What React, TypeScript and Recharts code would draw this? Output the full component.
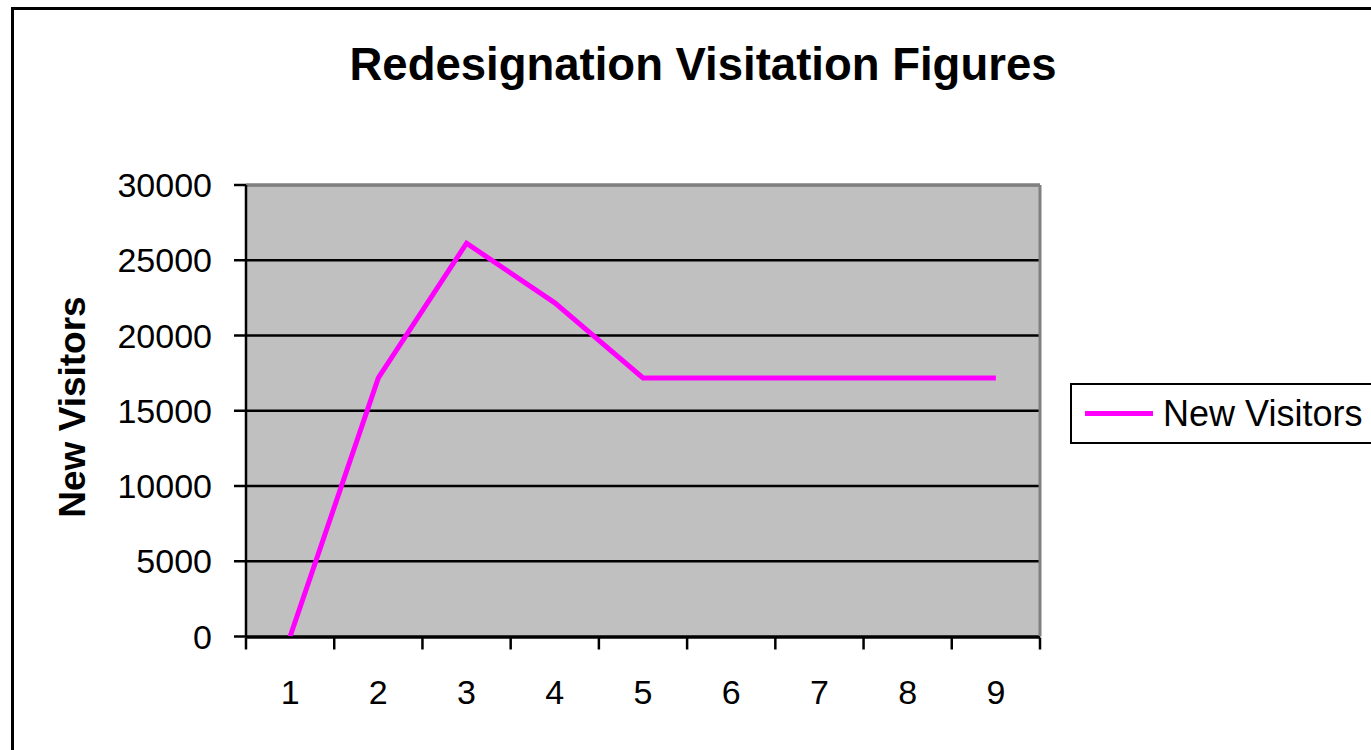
import {
  LineChart,
  Line,
  XAxis,
  YAxis,
  CartesianGrid,
  ReferenceLine,
  Legend,
} from 'recharts';

const periods = [1, 2, 3, 4, 5, 6, 7, 8, 9];
const newVisitors = [0, 17180, 26130, 22170, 17180, 17180, 17180, 17180, 17180];
const yTicks = [0, 5000, 10000, 15000, 20000, 25000, 30000];
const boundaryTicks = [0.5, 1.5, 2.5, 3.5, 4.5, 5.5, 6.5, 7.5, 8.5, 9.5];

const data = periods.map((p, i) => ({ period: p, visitors: newVisitors[i] }));

const FONT = '"Liberation Sans", Arial, sans-serif';
const MAGENTA = '#FF00FF';

function LegendBox() {
  return (
    <div
      style={{
        boxSizing: 'border-box',
        width: 310,
        height: 61,
        border: '2px solid #000',
        background: '#fff',
        display: 'flex',
        alignItems: 'center',
        fontFamily: FONT,
        fontSize: 36,
        color: '#000',
      }}
    >
      <div style={{ width: 68, height: 5, background: MAGENTA, marginLeft: 13, marginRight: 10 }} />
      <span style={{ whiteSpace: 'nowrap' }}>New Visitors</span>
    </div>
  );
}

export default function App() {
  return (
    <div
      style={{
        position: 'absolute',
        left: 0,
        top: 0,
        width: 1371,
        height: 750,
        overflow: 'hidden',
        background: '#fff',
        fontFamily: FONT,
      }}
    >
      <div
        style={{
          position: 'absolute',
          left: 11,
          top: 7,
          width: 1420,
          height: 820,
          border: '3px solid #000',
        }}
      />
      <div
        style={{
          position: 'absolute',
          left: 0,
          width: 1406,
          top: 42,
          textAlign: 'center',
          fontSize: 45.5,
          lineHeight: 1,
          fontWeight: 'bold',
          color: '#000',
        }}
      >
        Redesignation Visitation Figures
      </div>
      <div
        style={{
          position: 'absolute',
          left: 72,
          top: 407,
          transform: 'translate(-50%, -50%) rotate(-90deg)',
          fontSize: 37,
          lineHeight: 1,
          fontWeight: 'bold',
          whiteSpace: 'nowrap',
          color: '#000',
        }}
      >
        New Visitors
      </div>
      <div style={{ position: 'absolute', left: 0, top: 0 }}>
        <LineChart
          width={1371}
          height={750}
          data={data}
          margin={{ top: 185, right: 331, bottom: 52.5, left: 186 }}
        >
          <CartesianGrid
            vertical={false}
            fill="#C0C0C0"
            fillOpacity={1}
            stroke="#000"
            strokeWidth={2.5}
          />
          <ReferenceLine y={30000} stroke="#808080" strokeWidth={3} />
          <ReferenceLine x={9.5} stroke="#808080" strokeWidth={3} />
          <XAxis
            xAxisId="bounds"
            type="number"
            dataKey="period"
            domain={[0.5, 9.5]}
            ticks={boundaryTicks}
            interval={0}
            tickFormatter={() => ''}
            height={60}
            tickSize={12}
            axisLine={{ stroke: '#000', strokeWidth: 2.5 }}
            tickLine={{ stroke: '#000', strokeWidth: 2.5 }}
          />
          <XAxis
            type="number"
            dataKey="period"
            domain={[0.5, 9.5]}
            ticks={periods}
            interval={0}
            height={1}
            axisLine={false}
            tickLine={false}
            tickSize={0}
            tickMargin={43}
            tick={{ fontSize: 34, fill: '#000', fontFamily: FONT }}
          />
          <YAxis
            width={60}
            domain={[0, 30000]}
            ticks={yTicks}
            interval={0}
            tickSize={12}
            tickMargin={22}
            axisLine={{ stroke: '#000', strokeWidth: 2.5 }}
            tickLine={{ stroke: '#000', strokeWidth: 2.5 }}
            tick={{ fontSize: 34, fill: '#000', fontFamily: FONT }}
          />
          <Legend
            layout="horizontal"
            verticalAlign="middle"
            align="center"
            wrapperStyle={{ left: 1070, top: 383, width: 310, height: 61 }}
            content={() => <LegendBox />}
          />
          <Line
            type="linear"
            dataKey="visitors"
            name="New Visitors"
            stroke={MAGENTA}
            strokeWidth={5}
            dot={false}
            activeDot={false}
            isAnimationActive={false}
          />
        </LineChart>
      </div>
    </div>
  );
}
